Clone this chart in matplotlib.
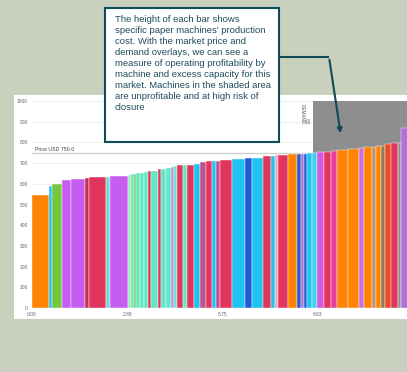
import matplotlib.pyplot as plt
import matplotlib.patches as mpatches
import numpy as np

plt.rcParams['font.family'] = ['Liberation Sans', 'DejaVu Sans']

# machine capacity (cumulative x axis) and production cost per machine
capacity = [0.51, 0.09, 0.30, 0.29, 0.41, 0.12, 0.51, 0.12, 0.54, 0.09,
            0.09, 0.06, 0.12, 0.12, 0.12, 0.09, 0.21, 0.09, 0.15, 0.15,
            0.09, 0.09, 0.18, 0.12, 0.24, 0.18, 0.18, 0.18, 0.12, 0.12,
            0.36, 0.39, 0.21, 0.33, 0.24, 0.12, 0.09, 0.30, 0.27, 0.12,
            0.09, 0.09, 0.15, 0.15, 0.21, 0.21, 0.18, 0.33, 0.33, 0.15,
            0.24, 0.12, 0.18, 0.12, 0.18, 0.21, 0.09, 0.30]
cost = [545, 590, 600, 620, 622, 628, 633, 635, 640, 643,
        645, 647, 650, 652, 655, 660, 664, 670, 673, 676,
        680, 684, 690, 691, 693, 697, 705, 710, 711, 712,
        715, 720, 724, 726, 733, 735, 737, 740, 742, 744,
        745, 746, 748, 750, 752, 755, 758, 762, 768, 772,
        776, 778, 781, 784, 790, 795, 798, 870]
machine_type = ['orange', 'cyan', 'green', 'purple', 'purple', 'dcrimson', 'crimson', 'teal', 'purple', 'lmint',
                'mint', 'green', 'mint', 'mint', 'mint', 'crimson', 'mint', 'crimson', 'mint', 'mint',
                'lavender', 'mint', 'crimson', 'mint', 'crimson', 'cyan', 'mauve', 'crimson', 'cyan', 'mauve',
                'crimson', 'cyan', 'blue', 'cyan', 'crimson', 'cyan', 'lpink', 'crimson', 'orange', 'blue',
                'purple2', 'blue', 'cyan', 'cyan2', 'magenta', 'crimson', 'pinkmag', 'orange', 'orange', 'orchid',
                'orange', 'tan', 'orange', 'olive', 'redorange', 'crimson', 'gray', 'lavender2']

price = 750.0
demand = 8.48
yticks = [0, 100, 200, 300, 400, 500, 600, 700, 800, 900, 1000]
xticks = [0.0, 2.875, 5.75, 8.625]
xticklabels = ['0.00', '2.88', '5.75', '8.63']

palette = {'orange': '#ff8200', 'cyan': '#1ec3f0', 'green': '#74c63f', 'purple': '#c65cf0',
           'dcrimson': '#c8304f', 'crimson': '#e0365e', 'teal': '#7ad8d4', 'lmint': '#a0eab0',
           'mint': '#5ee8c4', 'lavender': '#c08cf0', 'mauve': '#c0508f', 'blue': '#2458d8',
           'lpink': '#f5a3bc', 'purple2': '#a870d0', 'cyan2': '#40d2ea', 'magenta': '#d858e0',
           'pinkmag': '#ea3f9c', 'orchid': '#c872d8', 'tan': '#c09070', 'olive': '#8f7b55',
           'redorange': '#f04a25', 'gray': '#909090', 'lavender2': '#b070e0'}

W, H = 407, 372
fig = plt.figure(figsize=(W / 100, H / 100), dpi=100)
fig.patch.set_facecolor('#c9d1be')

# white panel behind the chart
fig.patches.append(mpatches.Rectangle((14 / W, 1 - 319 / H), 1 - 14 / W, (319 - 95) / H,
                                      transform=fig.transFigure, facecolor='white',
                                      edgecolor='none', zorder=-5))

ax = fig.add_axes([32 / W, 1 - 308 / H, 1 - 32 / W, (308 - 101) / H], zorder=1)
ax.set_facecolor('none')

left = np.concatenate([[0], np.cumsum(capacity)[:-1]])
colors = [palette[m] for m in machine_type]
ax.bar(left, cost, width=capacity, align='edge', color=colors,
       edgecolor='white', linewidth=0.3, zorder=3)

xmax = 11.31
ax.set_xlim(0, xmax)
ax.set_ylim(0, 1000)

# unprofitable zone: above price, beyond demand
ax.add_patch(mpatches.Rectangle((demand, price), xmax - demand + 1, 1000 - price,
                                facecolor='#8e8e8e', edgecolor='none', zorder=1))
ax.axhline(price, color='#cfcfcf', lw=1, zorder=2)
ax.text(0.1, price + 8, 'Price USD 750.0', fontsize=3.8, color='#444444', zorder=4)
ax.text(demand - 0.12, 985, '8.5\nDEMAND', rotation=270, fontsize=3.3, color='#555555',
        ha='right', va='top', linespacing=1.0, zorder=4)

ax.set_yticks(yticks)
ax.set_yticklabels([str(v) for v in yticks])
ax.set_xticks(xticks)
ax.set_xticklabels(xticklabels)
ax.tick_params(length=0, labelsize=3.5, labelcolor='#666666', pad=3)
ax.grid(axis='y', color='#ececec', lw=0.6, zorder=0)
ax.set_axisbelow(True)
for s in ax.spines.values():
    s.set_visible(False)

# callout box with connector arrow, drawn in pixel coordinates
ov = fig.add_axes([0, 0, 1, 1], zorder=10)
ov.set_xlim(0, W)
ov.set_ylim(H, 0)
ov.axis('off')
ov.add_patch(mpatches.Rectangle((105, 8), 174, 134, facecolor='white',
                                edgecolor='#0e4b57', linewidth=1.5))
note = ("The height of each bar shows\n"
        "specific paper machines' production\n"
        "cost. With the market price and\n"
        "demand overlays, we can see a\n"
        "measure of operating profitability by\n"
        "machine and excess capacity for this\n"
        "market. Machines in the shaded area\n"
        "are unprofitable and at high risk of\n"
        "closure")
ov.text(115, 15.5, note, fontsize=6.8, color='#1d4d5c', va='top', ha='left', linespacing=1.28)
ov.plot([279, 329], [57, 57], color='#0e4b57', lw=1.5, solid_capstyle='butt')
ov.annotate('', xy=(341, 136), xytext=(329, 57),
            arrowprops=dict(arrowstyle='-|>', color='#0e4b57', lw=1.5, mutation_scale=7))

fig.savefig('out.png', dpi=100, facecolor=fig.get_facecolor())
